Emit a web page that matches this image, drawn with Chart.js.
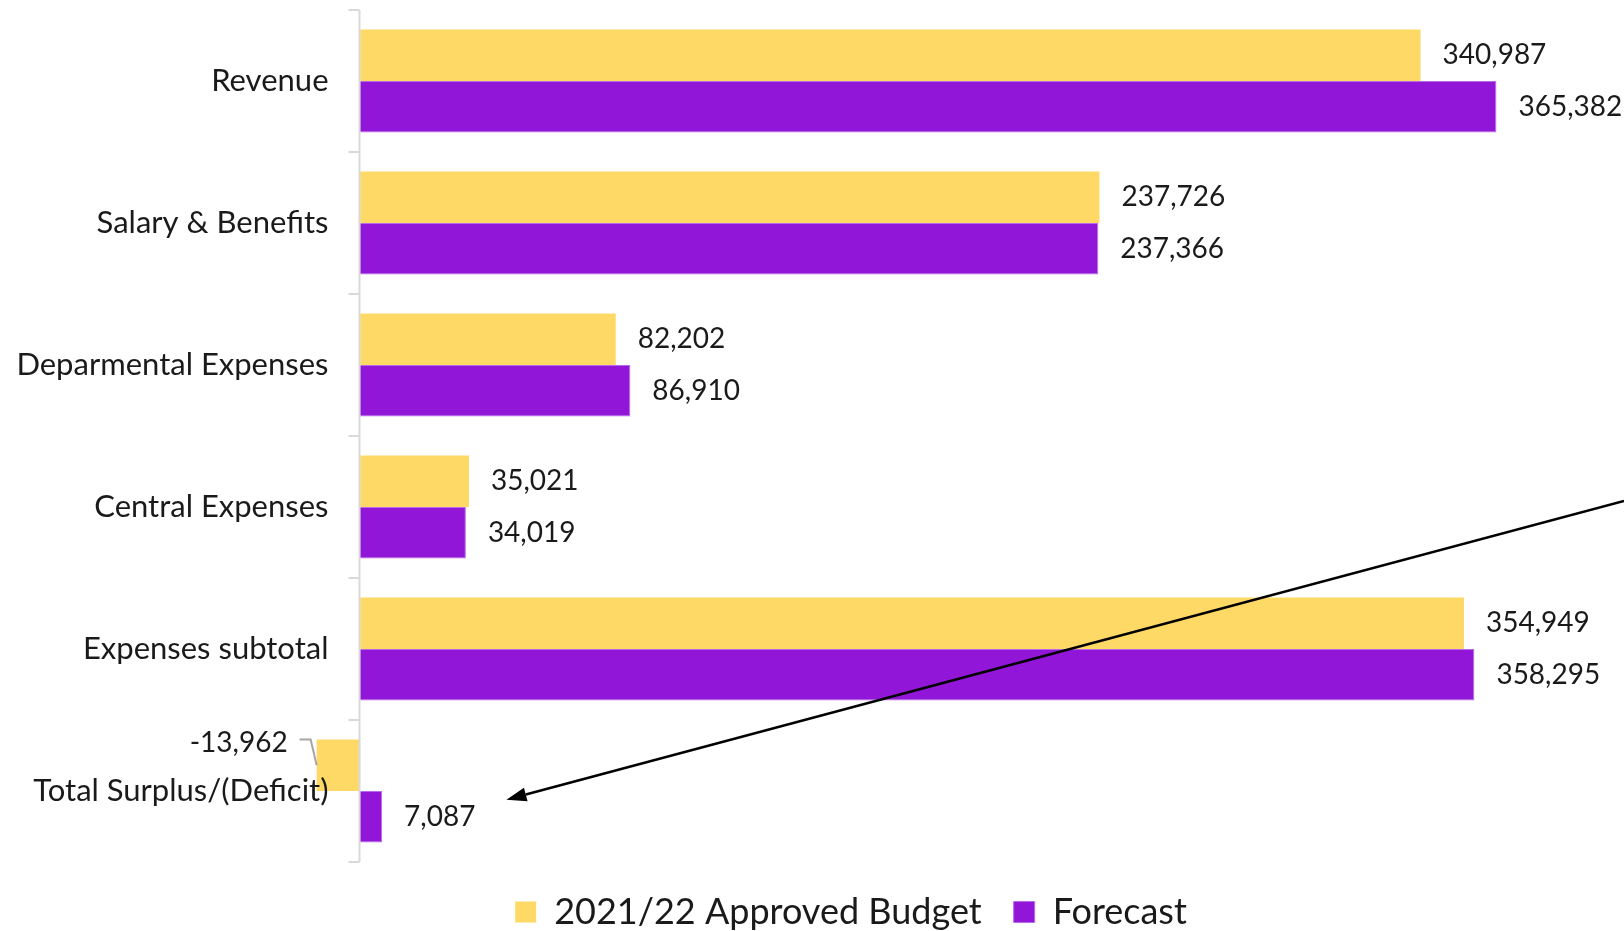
<!DOCTYPE html>
<html>
<head>
<meta charset="utf-8">
<title>Budget vs Forecast</title>
<script src="https://cdn.jsdelivr.net/npm/chart.js@4.4.1/dist/chart.umd.min.js"></script>
<style>
  html, body { margin: 0; padding: 0; background: #fff; }
  canvas { display: block; }
</style>
</head>
<body>
<canvas id="chart-budget" width="1624" height="931"></canvas>
<script>
'use strict';

var categories = ['Revenue', 'Salary & Benefits', 'Deparmental Expenses', 'Central Expenses', 'Expenses subtotal', 'Total Surplus/(Deficit)'];
var seriesNames = ['2021/22 Approved Budget', 'Forecast'];
var approvedBudget = [340987, 237726, 82202, 35021, 354949, -13962];
var forecast = [365382, 237366, 86910, 34019, 358295, 7087];

var FONT = 'Lato';
var TEXT = '#1a1a1a';


// Category axis drawn at the zero line, with labels sitting left of it
//
var zeroAxis = {
  id: 'zeroAxis',
  afterDatasetsDraw: function(chart) {
    var ctx = chart.ctx;
    var x = chart.scales.x, y = chart.scales.y;
    var x0 = Math.round(x.getPixelForValue(0)) - 0.5;
    var n = categories.length;
    var band = (y.bottom - y.top) / n;

    ctx.save();
    ctx.strokeStyle = '#d9d9d9';
    ctx.lineWidth = 2;
    ctx.beginPath();
    ctx.moveTo(x0, y.top);
    ctx.lineTo(x0, y.bottom);
    for (var i = 0; i <= n; i++) {
      var ty = y.top + i * band;
      ctx.moveTo(x0 - 11, ty);
      ctx.lineTo(x0, ty);
    }
    ctx.stroke();

    ctx.fillStyle = TEXT;
    ctx.font = '31px ' + FONT;
    ctx.textAlign = 'right';
    ctx.textBaseline = 'middle';
    categories.forEach(function(label, i) {
      ctx.fillText(label, x0 - 31, y.getPixelForValue(i));
    });
    ctx.restore();
  }
};


// Value labels next to each bar; negatives get a small leader line
//
var valueLabels = {
  id: 'valueLabels',
  afterDatasetsDraw: function(chart) {
    var ctx = chart.ctx;
    ctx.save();
    ctx.font = '28px ' + FONT;
    ctx.fillStyle = TEXT;
    ctx.textBaseline = 'middle';

    chart.data.datasets.forEach(function(ds, di) {
      chart.getDatasetMeta(di).data.forEach(function(bar, i) {
        var v = ds.data[i];
        var p = bar.getProps(['x', 'y', 'height'], true);
        var text = v.toLocaleString('en-US');

        if (v >= 0) {
          ctx.textAlign = 'left';
          ctx.fillText(text, p.x + 22, p.y);
        } else {
          var ly = p.y - p.height / 2 + 3;
          ctx.textAlign = 'right';
          ctx.fillText(text, p.x - 29, ly);
          ctx.strokeStyle = '#a6a6a6';
          ctx.lineWidth = 2;
          ctx.beginPath();
          ctx.moveTo(p.x - 17, ly - 3);
          ctx.lineTo(p.x - 6, ly - 3);
          ctx.lineTo(p.x, p.y);
          ctx.stroke();
        }
      });
    });
    ctx.restore();
  }
};


// Arrow from the right edge down to the forecast surplus figure
//
var surplusArrow = {
  id: 'surplusArrow',
  afterDraw: function(chart) {
    var ctx = chart.ctx;
    var last = categories.length - 1;
    var bar = chart.getDatasetMeta(1).data[last];
    var p = bar.getProps(['x', 'y'], true);

    ctx.save();
    ctx.font = '28px ' + FONT;
    var labelEnd = p.x + 22 + ctx.measureText(forecast[last].toLocaleString('en-US')).width;
    var tip = { x: labelEnd + 31, y: p.y - 17 };
    var tail = { x: chart.width, y: chart.scales.y.getPixelForValue(3) - 6 };

    var ang = Math.atan2(tip.y - tail.y, tip.x - tail.x);
    var len = 20, half = 7;
    var bx = tip.x - len * Math.cos(ang), by = tip.y - len * Math.sin(ang);

    ctx.strokeStyle = '#000';
    ctx.fillStyle = '#000';
    ctx.lineWidth = 2.5;
    ctx.beginPath();
    ctx.moveTo(tail.x, tail.y);
    ctx.lineTo(bx, by);
    ctx.stroke();

    ctx.beginPath();
    ctx.moveTo(tip.x, tip.y);
    ctx.lineTo(bx + half * Math.sin(ang), by - half * Math.cos(ang));
    ctx.lineTo(bx - half * Math.sin(ang), by + half * Math.cos(ang));
    ctx.closePath();
    ctx.fill();
    ctx.restore();
  }
};


new Chart(document.getElementById('chart-budget'), {
  type: 'bar',
  data: {
    labels: categories,
    datasets: [
      {
        label: seriesNames[0],
        data: approvedBudget,
        backgroundColor: '#ffd966',
        borderWidth: 0
      },
      {
        label: seriesNames[1],
        data: forecast,
        backgroundColor: '#9216d8',
        borderColor: '#b96aea',
        borderWidth: 1
      }
    ]
  },
  options: {
    indexAxis: 'y',
    responsive: false,
    animation: false,
    events: [],
    layout: {
      padding: { left: 78, top: 10, right: 0, bottom: 0 }
    },
    datasets: {
      bar: {
        categoryPercentage: 0.725,
        barPercentage: 1.0
      }
    },
    scales: {
      x: {
        display: false,
        min: -90700,
        max: 406400
      },
      y: {
        display: false
      }
    },
    plugins: {
      tooltip: { enabled: false },
      legend: {
        position: 'bottom',
        maxHeight: 69,
        labels: {
          boxWidth: 21,
          boxHeight: 21,
          padding: 32,
          color: TEXT,
          font: { family: FONT, size: 36 }
        }
      }
    }
  },
  plugins: [zeroAxis, valueLabels, surplusArrow]
});
</script>
</body>
</html>
